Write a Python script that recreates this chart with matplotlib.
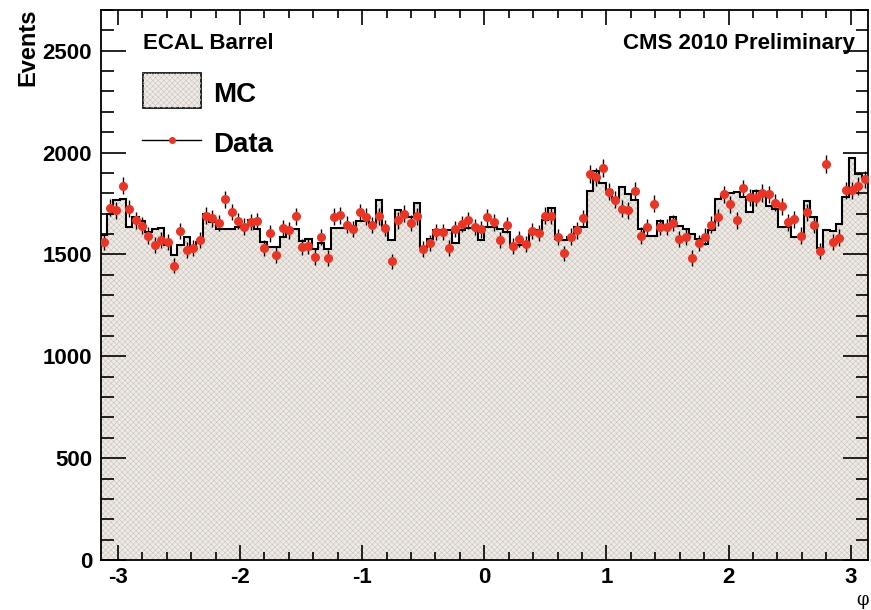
import matplotlib
matplotlib.use('Agg')
import matplotlib.pyplot as plt
import numpy as np
from matplotlib.patches import Rectangle
from matplotlib.lines import Line2D
from matplotlib.ticker import MultipleLocator

plt.rcParams['font.family'] = ['Liberation Sans', 'DejaVu Sans']
plt.rcParams['font.weight'] = 'bold'
plt.rcParams['axes.unicode_minus'] = False
plt.rcParams['hatch.linewidth'] = 0.4

W, H = 871, 610

# phi distribution, 120 bins over [-pi, pi]
data = [
    1560, 1729, 1717, 1838, 1724, 1667, 1641, 1593, 1546, 1572,
    1561, 1445, 1614, 1523, 1533, 1569, 1691, 1678, 1655, 1770,
    1708, 1664, 1637, 1660, 1665, 1531, 1603, 1497, 1629, 1618,
    1688, 1538, 1543, 1487, 1587, 1482, 1685, 1693, 1646, 1624,
    1706, 1686, 1644, 1688, 1629, 1466, 1667, 1700, 1655, 1688,
    1525, 1557, 1610, 1611, 1531, 1624, 1650, 1667, 1634, 1623,
    1683, 1657, 1569, 1644, 1541, 1575, 1551, 1616, 1606, 1690,
    1690, 1587, 1505, 1588, 1618, 1678, 1896, 1879, 1923, 1809,
    1768, 1724, 1716, 1812, 1593, 1634, 1749, 1634, 1634, 1655,
    1577, 1585, 1484, 1556, 1588, 1647, 1683, 1796, 1747, 1667,
    1825, 1781, 1778, 1802, 1796, 1753, 1737, 1658, 1673, 1593,
    1707, 1645, 1515, 1944, 1559, 1583, 1815, 1815, 1835, 1868,
]
mc = [
    1597, 1700, 1765, 1773, 1637, 1683, 1663, 1610, 1626, 1631,
    1548, 1499, 1548, 1588, 1536, 1561, 1700, 1659, 1626, 1623,
    1623, 1634, 1642, 1670, 1623, 1561, 1536, 1536, 1585, 1623,
    1623, 1566, 1575, 1528, 1556, 1528, 1631, 1631, 1631, 1640,
    1662, 1662, 1654, 1765, 1626, 1569, 1716, 1700, 1683, 1753,
    1536, 1577, 1621, 1621, 1621, 1556, 1621, 1631, 1631, 1569,
    1637, 1637, 1626, 1610, 1548, 1548, 1556, 1601, 1618, 1667,
    1729, 1577, 1572, 1588, 1637, 1637, 1811, 1909, 1850, 1817,
    1776, 1830, 1797, 1768, 1626, 1593, 1593, 1664, 1642, 1686,
    1642, 1626, 1598, 1575, 1552, 1620, 1773, 1790, 1800, 1805,
    1780, 1707, 1810, 1790, 1740, 1724, 1637, 1637, 1585, 1585,
    1760, 1683, 1533, 1621, 1614, 1650, 1784, 1973, 1896, 1880,
]
data = np.array(data, dtype=float)
mc = np.array(mc, dtype=float)
edges = np.linspace(-np.pi, np.pi, len(data) + 1)
centers = 0.5 * (edges[1:] + edges[:-1])

MC_FACE = '#eeebe7'
MC_HATCH = '#cbc3ba'
RED = '#ee3322'

fig = plt.figure(figsize=(W / 100, H / 100), dpi=100)
ax = fig.add_axes([100.5 / W, 1 - 560 / H, (868 - 100.5) / W, 550 / H])

ax.stairs(mc, edges, fill=True, facecolor=MC_FACE, edgecolor=MC_HATCH, hatch='xxxxxx', linewidth=0)
ax.stairs(mc, edges, baseline=None, color='k', lw=1.5)
ax.errorbar(centers, data, yerr=np.sqrt(data), fmt='o', ms=5.5, mfc=RED, mec=RED,
            ecolor='k', elinewidth=1.0, capsize=0, zorder=3)

ax.set_xlim(-np.pi, np.pi)
ax.set_ylim(0, 2700)
ax.set_xticks(np.arange(-3, 4))
ax.xaxis.set_minor_locator(MultipleLocator(0.2))
ax.set_yticks(np.arange(0, 2501, 500))
ax.yaxis.set_minor_locator(MultipleLocator(100))
ax.tick_params(axis='x', which='major', direction='in', length=11, width=1.2, top=True, labelsize=16, pad=5)
ax.tick_params(axis='x', which='minor', direction='in', length=6, width=1.2, top=True)
ax.tick_params(axis='y', which='major', direction='in', length=18, width=1.2, right=True, labelsize=16, pad=6)
ax.tick_params(axis='y', which='minor', direction='in', length=9, width=1.2, right=True)
for s in ax.spines.values():
    s.set_linewidth(1.3)

# axis titles
fig.text(28 / W, 1 - 9 / H, 'Events', rotation=90, ha='center', va='top', fontsize=17, fontweight='bold')
fig.text(862 / W, 1 - 600 / H, 'φ', ha='center', va='center', fontsize=13, family='DejaVu Serif',
         fontweight='normal')

# labels and legend
fig.text(143 / W, 1 - 49 / H, 'ECAL Barrel', ha='left', va='baseline', fontsize=16)
fig.text(855 / W, 1 - 49 / H, 'CMS 2010 Preliminary', ha='right', va='baseline', fontsize=16)
fig.patches.append(Rectangle((143 / W, 1 - 108 / H), 58 / W, 35 / H, transform=fig.transFigure,
                             facecolor=MC_FACE, edgecolor='k', lw=1.2))
fig.patches.append(Rectangle((143 / W, 1 - 108 / H), 58 / W, 35 / H, transform=fig.transFigure,
                             facecolor='none', edgecolor=MC_HATCH, hatch='xxxxxx', lw=0))
fig.text(213 / W, 1 - 102 / H, 'MC', ha='left', va='baseline', fontsize=20)
fig.lines.append(Line2D([142 / W, 201 / W], [1 - 140 / H, 1 - 140 / H], transform=fig.transFigure,
                        color='k', lw=1.0))
fig.lines.append(Line2D([172 / W], [1 - 140 / H], transform=fig.transFigure, marker='o', ms=4,
                        mfc=RED, mec=RED, lw=0))
fig.text(213 / W, 1 - 152 / H, 'Data', ha='left', va='baseline', fontsize=20)

fig.savefig('out.png', dpi=100)
